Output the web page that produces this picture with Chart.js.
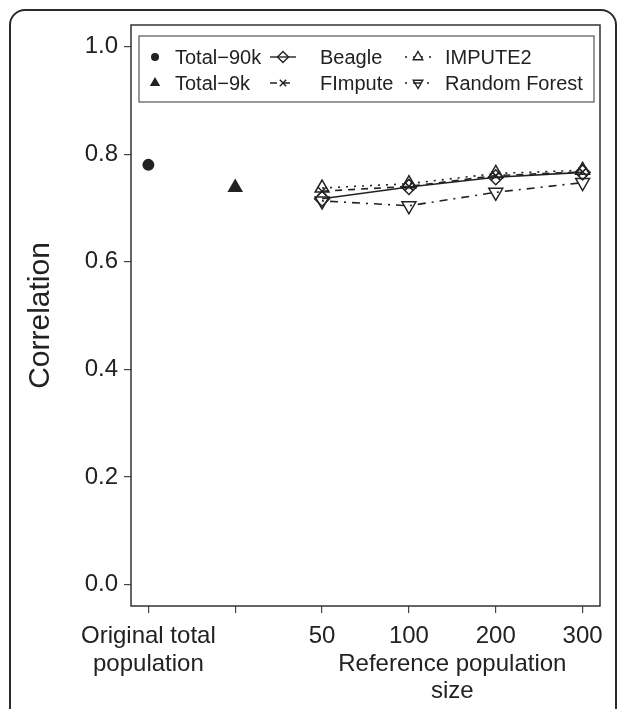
<!DOCTYPE html>
<html>
<head>
<meta charset="utf-8">
<script src="https://cdn.jsdelivr.net/npm/chart.js@4.4.1/dist/chart.umd.min.js"></script>
<style>
    html, body { margin: 0; padding: 0; background: #fff; }
    #wrap { position: relative; width: 627px; height: 709px; overflow: hidden; }
    #frame { position: absolute; left: 9px; top: 9px; width: 608px; height: 760px; border: 2px solid #2b2b2b; border-radius: 16px; box-sizing: border-box; }
    canvas { position: absolute; left: 0; top: 0; }
</style>
</head>
<body>
<div id="wrap">
    <div id="frame"></div>
    <canvas id="chart" width="627" height="709"></canvas>
</div>
<script>
// x positions: 0 = original total population, 1 = (no label), 2..5 = reference sizes
const xLabels = [['Original total', 'population'], '', '50', '100', '200', '300'];
const refSizes = ['50', '100', '200', '300'];
const yTicks = [0, 0.2, 0.4, 0.6, 0.8, 1.0];

const total90k = 0.780;
const total9k = 0.738;
const beagle = [0.717, 0.739, 0.757, 0.766];
const fimpute = [0.731, 0.740, 0.760, 0.767];
const impute2 = [0.737, 0.745, 0.764, 0.770];
const randomForest = [0.713, 0.704, 0.729, 0.747];

const ink = '#222';

// helper to pair reference sizes with their x slot
function refPoints(values) {
    return values.map((v, i) => ({ x: xLabels.indexOf(refSizes[i]), y: v }));
}

// legend entries, R-style column-major
const legendItems = [
    { text: 'Total\u221290k', style: 'circle', r: 4, fill: true },
    { text: 'Total\u22129k', style: 'triangle', r: 6, fill: true },
    { text: 'Beagle', style: 'rectRot', r: 5.5, dash: [] },
    { text: 'FImpute', style: 'crossRot', r: 4.5, dash: [7, 6] },
    { text: 'IMPUTE2', style: 'triangle', r: 5.5, dash: [2, 6] },
    { text: 'Random Forest', style: 'triangle', r: 5.5, rot: 180, dash: [2, 6, 8, 6] }
];

const boxPlugin = {
    id: 'boxPlugin',
    afterDraw(chart) {
        const { ctx, chartArea: ca, scales } = chart;
        ctx.save();
        ctx.strokeStyle = '#333';
        ctx.lineWidth = 1.5;
        ctx.strokeRect(ca.left, ca.top, ca.right - ca.left, ca.bottom - ca.top);

        // second x title under the reference sizes
        ctx.fillStyle = ink;
        ctx.font = '24px "Liberation Sans", Arial, sans-serif';
        ctx.textAlign = 'center';
        ctx.textBaseline = 'middle';
        const cx = scales.x.getPixelForValue(3.5);
        ctx.fillText('Reference population', cx, 664);
        ctx.fillText('size', cx, 691);

        // legend
        const bx = ca.left + 8, by = ca.top + 11, bw = ca.right - 6 - bx, bh = 66;
        ctx.lineWidth = 1.2;
        ctx.strokeStyle = '#555';
        ctx.strokeRect(bx, by, bw, bh);
        const colMarker = [16, 144, 279];
        const colText = [36, 181, 306];
        const rowY = [21, 47];
        ctx.font = '20px "Liberation Sans", Arial, sans-serif';
        ctx.textAlign = 'left';
        legendItems.forEach((item, i) => {
            const col = Math.floor(i / 2), row = i % 2;
            const mx = bx + colMarker[col], my = by + rowY[row];
            ctx.strokeStyle = ink;
            ctx.lineWidth = 1.4;
            if (item.dash) {
                ctx.setLineDash(item.dash);
                ctx.beginPath();
                ctx.moveTo(mx - 13, my);
                ctx.lineTo(mx + 13, my);
                ctx.stroke();
                ctx.setLineDash([]);
            }
            ctx.fillStyle = item.fill ? ink : 'rgba(0,0,0,0)';
            Chart.helpers.drawPoint(ctx, {
                pointStyle: item.style, radius: item.r, rotation: item.rot || 0,
                borderWidth: item.fill ? 0 : 1.3
            }, mx, my);
            ctx.fillStyle = ink;
            ctx.fillText(item.text, bx + colText[col], my + 1);
        });
        ctx.restore();
    }
};

const lineSet = (label, values, dash, style, radius, rotation) => ({
    label: label,
    data: refPoints(values),
    showLine: true,
    borderColor: ink,
    borderWidth: 1.6,
    borderDash: dash,
    pointStyle: style,
    pointRadius: radius,
    pointRotation: rotation || 0,
    pointBorderWidth: 1.5,
    pointBorderColor: ink,
    pointBackgroundColor: 'rgba(0,0,0,0)'
});

new Chart(document.getElementById('chart'), {
    type: 'scatter',
    data: {
        datasets: [
            {
                label: 'Total\u221290k',
                data: [{ x: 0, y: total90k }],
                pointStyle: 'circle', pointRadius: 6,
                pointBackgroundColor: ink, pointBorderWidth: 0
            },
            {
                label: 'Total\u22129k',
                data: [{ x: 1, y: total9k }],
                pointStyle: 'triangle', pointRadius: 9,
                pointBackgroundColor: ink, pointBorderWidth: 0
            },
            lineSet('Beagle', beagle, [], 'rectRot', 7.5),
            lineSet('FImpute', fimpute, [7, 6], 'crossRot', 6),
            lineSet('IMPUTE2', impute2, [2, 6], 'triangle', 8),
            lineSet('Random Forest', randomForest, [2, 6, 8, 6], 'triangle', 8, 180)
        ]
    },
    options: {
        responsive: false,
        animation: false,
        layout: { padding: { top: 25, right: 27, bottom: 0, left: 0 } },
        plugins: {
            legend: { display: false },
            tooltip: { enabled: false }
        },
        scales: {
            x: {
                type: 'linear',
                min: -0.2,
                max: 5.2,
                afterBuildTicks: (s) => { s.ticks = xLabels.map((_, i) => ({ value: i })); },
                afterFit: (s) => { s.height = 103; },
                border: { display: false },
                grid: { drawOnChartArea: false, drawTicks: true, tickLength: 7, color: '#444', lineWidth: 1.2 },
                ticks: {
                    color: ink,
                    padding: 10,
                    maxRotation: 0,
                    autoSkip: false,
                    font: { family: '"Liberation Sans", Arial, sans-serif', size: 24, lineHeight: 1.15 },
                    callback: (value) => xLabels[value]
                }
            },
            y: {
                min: -0.04,
                max: 1.04,
                afterBuildTicks: (s) => { s.ticks = yTicks.map(v => ({ value: v })); },
                afterFit: (s) => { s.width = 131; },
                border: { display: false },
                grid: { drawOnChartArea: false, drawTicks: true, tickLength: 7, color: '#444', lineWidth: 1.2 },
                title: {
                    display: true,
                    text: 'Correlation',
                    color: ink,
                    padding: { top: 23, bottom: 0 },
                    font: { family: '"Liberation Sans", Arial, sans-serif', size: 30 }
                },
                ticks: {
                    color: ink,
                    padding: 6,
                    font: { family: '"Liberation Sans", Arial, sans-serif', size: 24 },
                    callback: (value) => value.toFixed(1)
                }
            }
        }
    },
    plugins: [boxPlugin]
});
</script>
</body>
</html>
